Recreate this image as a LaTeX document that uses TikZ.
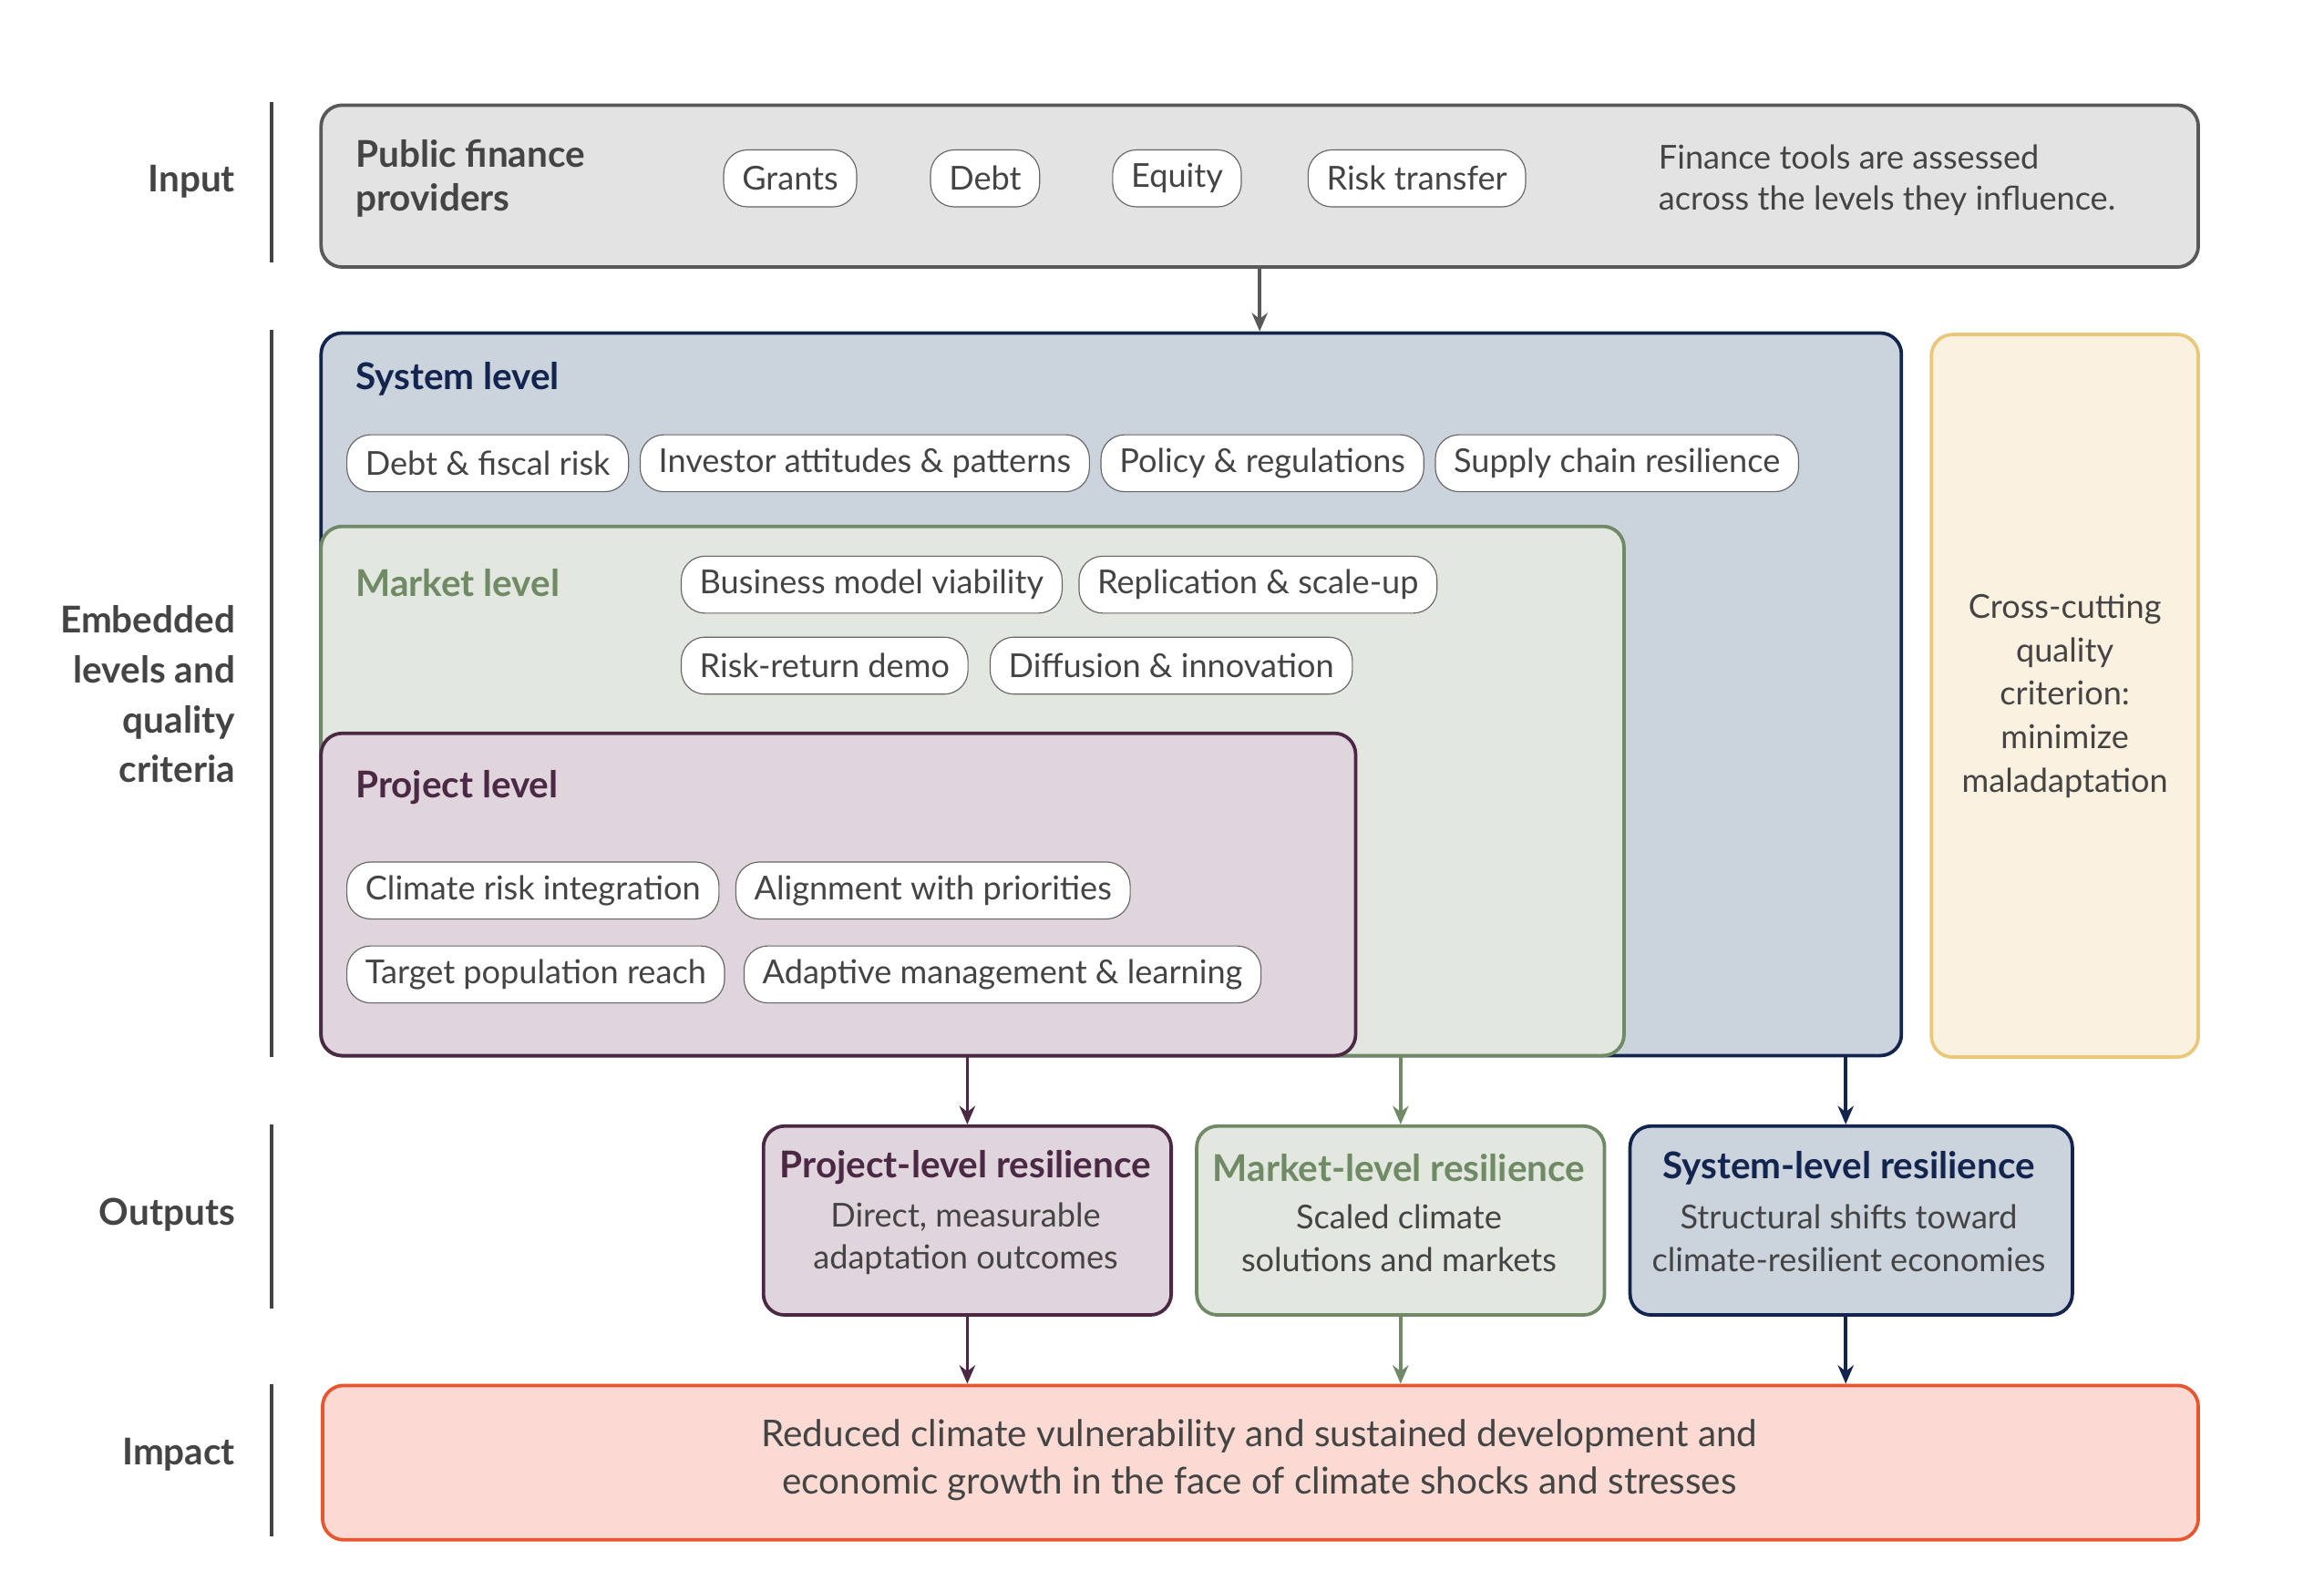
\documentclass[tikz,border=0pt]{standalone}
\usepackage{fontspec}
\setmainfont{Lato}
\usetikzlibrary{positioning,arrows.meta}
\definecolor{navy}{HTML}{13254F}
\definecolor{navyfill}{HTML}{CBD3DD}
\definecolor{sage}{HTML}{6F8A64}
\definecolor{sagefill}{HTML}{E2E7DF}
\definecolor{plum}{HTML}{4B2843}
\definecolor{plumfill}{HTML}{E0D5DD}
\definecolor{sand}{HTML}{EBC77A}
\definecolor{sandfill}{HTML}{FAF1E1}
\definecolor{coral}{HTML}{E8552F}
\definecolor{coralfill}{HTML}{FADAD3}
\definecolor{ink}{HTML}{444444}
\tikzset{
  lvl/.style={draw, line width=1.3pt, rounded corners=8pt, anchor=north west, inner sep=0pt},
  pill/.style={draw=gray!80!black, fill=white, rounded corners=9pt, minimum height=0.76cm,
    inner xsep=7pt, text=ink, font=\fontsize{12.5}{15}\selectfont},
  title/.style={anchor=west, font=\fontsize{14}{17}\selectfont\bfseries},
  side/.style={anchor=east, align=right, text=ink, font=\fontsize{14}{19}\selectfont\bfseries},
  bar/.style={line width=1.3pt, draw=ink},
  link/.style={-{Stealth[length=7pt,width=6pt]}, line width=1.3pt},
  body/.style={text=ink, align=center, font=\fontsize{12.5}{16}\selectfont}
}
\begin{document}
\begin{tikzpicture}[x=0.02cm, y=-0.02cm]
  \useasboundingbox (0,0) rectangle (1550,1054);

  % side labels
  \node[side] (linput) at (163,121) {Input};
  \node[side] (lembed) at (163,463) {Embedded\\levels and\\quality\\criteria};
  \node[side] (lout) at (163,810) {Outputs};
  \node[side] (limp) at (163,970) {Impact};
  \draw[bar] (181,68) -- (181,175);
  \draw[bar] (181,220) -- (181,705);
  \draw[bar] (181,750) -- (181,873);
  \draw[bar] (181,923) -- (181,1025);

  % input
  \node[lvl, draw=gray!70!black, fill=gray!22, minimum width=1252*0.02cm, minimum height=108*0.02cm] (input) at (213,69) {};
  \node[title, text=ink, align=left, font=\fontsize{14}{16.5}\selectfont\bfseries] (inputt) at (231,119) {Public finance\\providers};
  \node[pill] (grants) at (527,119) {Grants};
  \node[pill] (debt) at (657,119) {Debt};
  \node[pill] (equity) at (785,119) {Equity};
  \node[pill] (risk) at (945,119) {Risk transfer};
  \node[anchor=west, align=left, text=ink, font=\fontsize{12.5}{15.5}\selectfont] (note) at (1100,120)
    {Finance tools are assessed\\across the levels they influence.};

  % embedded levels
  \node[lvl, draw=navy, fill=navyfill, minimum width=1054*0.02cm, minimum height=482*0.02cm] (sys) at (213,221) {};
  \node[title, text=navy] (syst) at (231,253) {System level};
  \node[pill, anchor=west] (s1) at (231,309) {Debt \& fiscal risk};
  \node[pill, right=4pt of s1] (s2) {Investor attitudes \& patterns};
  \node[pill, right=4pt of s2] (s3) {Policy \& regulations};
  \node[pill, right=4pt of s3] (s4) {Supply chain resilience};

  \node[lvl, draw=sage, fill=sagefill, minimum width=869*0.02cm, minimum height=353*0.02cm] (mkt) at (213,350) {};
  \node[title, text=sage] (mktt) at (231,389) {Market level};
  \node[pill, anchor=west] (m1) at (454,390) {Business model viability};
  \node[pill, right=6pt of m1] (m2) {Replication \& scale-up};
  \node[pill, anchor=west] (m3) at (454,444) {Risk-return demo};
  \node[pill, right=8pt of m3] (m4) {Diffusion \& innovation};

  \node[lvl, draw=plum, fill=plumfill, minimum width=690*0.02cm, minimum height=215*0.02cm] (proj) at (213,488) {};
  \node[title, text=plum] (projt) at (231,525) {Project level};
  \node[pill, anchor=west] (p1) at (231,594) {Climate risk integration};
  \node[pill, right=6pt of p1] (p2) {Alignment with priorities};
  \node[pill, anchor=west] (p3) at (231,650) {Target population reach};
  \node[pill, right=7pt of p3] (p4) {Adaptive management \& learning};

  \node[lvl, draw=sand, fill=sandfill, minimum width=178*0.02cm, minimum height=482*0.02cm] (cross) at (1287,222) {};
  \node[body, font=\fontsize{12.5}{16.5}\selectfont] (crosst) at (cross.center) {Cross-cutting\\quality\\criterion:\\minimize\\maladaptation};

  % outputs
  \node[lvl, draw=plum, fill=plumfill, minimum width=272*0.02cm, minimum height=126*0.02cm] (pout) at (508,750) {};
  \node[lvl, draw=sage, fill=sagefill, minimum width=272*0.02cm, minimum height=126*0.02cm] (mout) at (797,750) {};
  \node[lvl, draw=navy, fill=navyfill, minimum width=295*0.02cm, minimum height=126*0.02cm] (sout) at (1086,750) {};
  \node[body, font=\fontsize{14}{17}\selectfont\bfseries, text=plum] at (644,779) {Project-level resilience};
  \node[body] at (644,826) {Direct, measurable\\adaptation outcomes};
  \node[body, font=\fontsize{14}{17}\selectfont\bfseries, text=sage] at (933,779) {Market-level resilience};
  \node[body] at (933,826) {Scaled climate\\solutions and markets};
  \node[body, font=\fontsize{14}{17}\selectfont\bfseries, text=navy] at (1233,779) {System-level resilience};
  \node[body] at (1233,826) {Structural shifts toward\\climate-resilient economies};

  % impact
  \node[lvl, draw=coral, fill=coralfill, minimum width=1251*0.02cm, minimum height=103*0.02cm] (imp) at (214,923) {};
  \node[body, font=\fontsize{14}{18}\selectfont] (impt) at (840,974) {Reduced climate vulnerability and sustained development and\\economic growth in the face of climate shocks and stresses};

  % connectors
  \draw[link, draw=gray!70!black] (input.south) -- (input.south |- sys.north);
  \draw[link, draw=plum] (pout.north |- proj.south) -- (pout.north);
  \draw[link, draw=sage] (mout.north |- sys.south) -- (mout.north);
  \draw[link, draw=navy] (1231,703) -- (sout.north -| 1231,0);
  \draw[link, draw=plum] (pout.south) -- (pout.south |- imp.north);
  \draw[link, draw=sage] (mout.south) -- (mout.south |- imp.north);
  \draw[link, draw=navy] (sout.south -| 1231,0) -- (1231,923);
\end{tikzpicture}
\end{document}
